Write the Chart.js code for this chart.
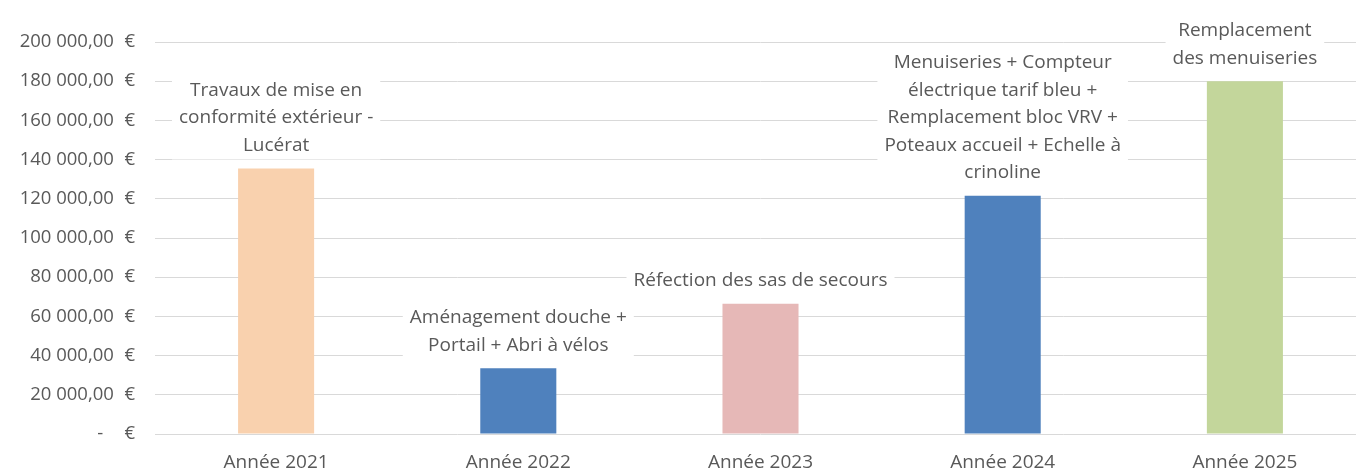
<!DOCTYPE html>
<html>
<head>
<meta charset="utf-8">
<script src="https://cdn.jsdelivr.net/npm/chart.js@4/dist/chart.umd.min.js"></script>
<style>
  html, body { margin: 0; padding: 0; background: #ffffff; overflow: hidden; }
  #wrap { position: relative; width: 1366px; height: 470px; }
</style>
</head>
<body>
<div id="wrap"><canvas id="c"></canvas></div>
<script>
const categories = ['Année 2021', 'Année 2022', 'Année 2023', 'Année 2024', 'Année 2025'];
const values = [135500, 33600, 66500, 121500, 180000];
const annotations = [
  ['Travaux de mise en', 'conformité extérieur -', 'Lucérat'],
  ['Aménagement douche +', 'Portail + Abri à vélos'],
  ['Réfection des sas de secours'],
  ['Menuiseries + Compteur', 'électrique tarif bleu +', 'Remplacement bloc VRV +', 'Poteaux accueil + Echelle à', 'crinoline'],
  ['Remplacement', 'des menuiseries']
];
const yMin = 0, yMax = 200000, yStep = 20000;

const barColors = ['#F9D1AE', '#4F81BD', '#E6B8B7', '#4F81BD', '#C3D69B'];
const textColor = '#595959';
const fontFamily = '"Open Sans", "Noto Sans", sans-serif';

function formatEuro(v) {
  const fs = '\u2007';
  if (v === 0) return '-' + fs + fs + '€';
  const s = Math.round(v).toString().replace(/\B(?=(\d{3})+(?!\d))/g, ' ');
  return s + ',00' + fs + '€';
}

const labelPlugin = {
  id: 'barLabels',
  afterDatasetsDraw(chart) {
    const ctx = chart.ctx;
    const meta = chart.getDatasetMeta(0);
    const lineH = 27.5;
    ctx.save();
    ctx.font = '19px ' + fontFamily;
    ctx.textAlign = 'center';
    ctx.textBaseline = 'middle';
    meta.data.forEach((el, i) => {
      const lines = annotations[i];
      const n = lines.length;
      const lastY = el.y - 23;
      const firstY = lastY - (n - 1) * lineH;
      let w = 0;
      lines.forEach(l => { w = Math.max(w, ctx.measureText(l).width); });
      ctx.fillStyle = '#ffffff';
      ctx.fillRect(el.x - w / 2 - 7, firstY - 14, w + 14, (n - 1) * lineH + 28);
      ctx.fillStyle = textColor;
      lines.forEach((l, k) => ctx.fillText(l, el.x, firstY + k * lineH));
    });
    ctx.restore();
  }
};

new Chart(document.getElementById('c'), {
  type: 'bar',
  data: {
    labels: categories,
    datasets: [{
      data: values,
      backgroundColor: barColors,
      borderWidth: 0,
      categoryPercentage: 1.0,
      barPercentage: 0.314
    }]
  },
  options: {
    responsive: true,
    maintainAspectRatio: false,
    animation: false,
    layout: { padding: { top: 42, right: 0, bottom: 0, left: 0 } },
    plugins: { legend: { display: false }, tooltip: { enabled: false } },
    scales: {
      x: {
        grid: { display: false, drawTicks: false },
        border: { display: false },
        ticks: { color: textColor, font: { family: fontFamily, size: 19 }, padding: 17 },
        afterFit(scale) { scale.height = 36; }
      },
      y: {
        min: yMin, max: yMax,
        grid: { color: '#D9D9D9', lineWidth: 1, drawTicks: false },
        border: { display: false },
        ticks: {
          stepSize: yStep,
          color: textColor,
          font: { family: fontFamily, size: 18.5 },
          padding: 20,
          callback: (v) => formatEuro(v)
        },
        afterFit(scale) { scale.width = 155; }
      }
    }
  },
  plugins: [labelPlugin]
});
</script>
</body>
</html>
